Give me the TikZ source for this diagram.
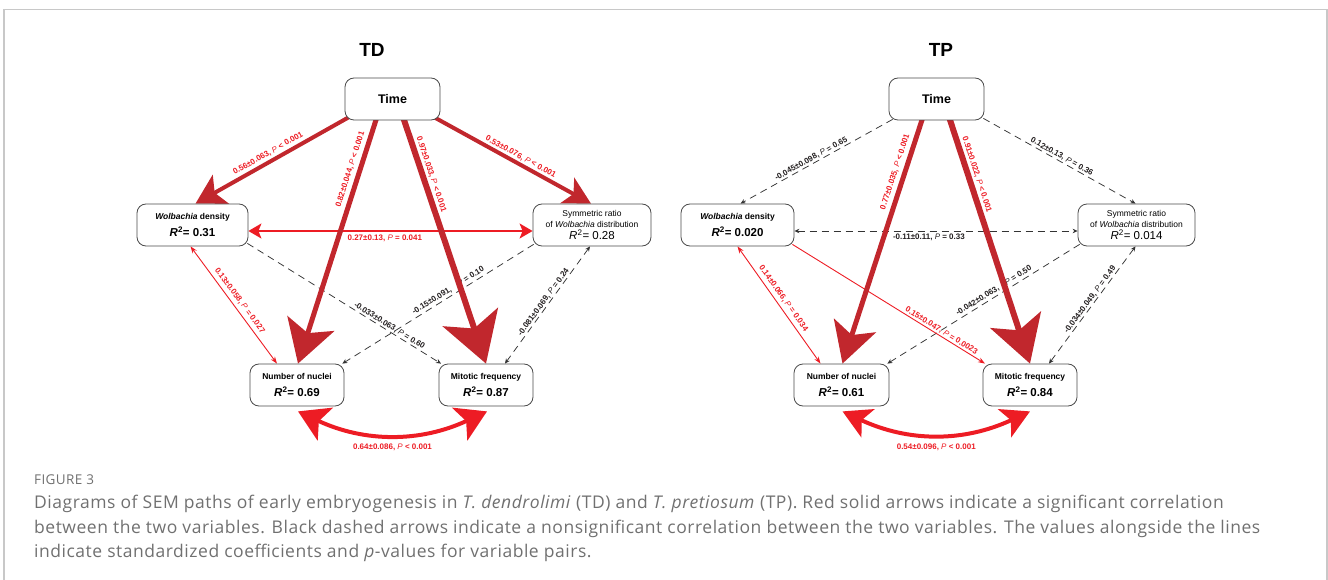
\documentclass[tikz,border=0pt]{standalone}
\usepackage{fontspec}
\setmainfont{Liberation Sans}
\newfontfamily\capfont[LetterSpace=3]{Open Sans}
\usetikzlibrary{arrows.meta,calc}
\definecolor{dred}{HTML}{C1272D}
\definecolor{bred}{HTML}{ED1C24}
\definecolor{boxline}{HTML}{4A4A4A}
\definecolor{capgray}{HTML}{707070}
\definecolor{framegray}{HTML}{C8C8C8}
\definecolor{dashcol}{HTML}{333333}
\definecolor{labblack}{HTML}{231F20}
\newcommand{\Pv}{{\mdseries\itshape P}}
\newcommand{\boxlab}[1]{{\fontsize{8.5}{10}\selectfont\bfseries #1}}
\newcommand{\boxlabm}[1]{{\fontsize{8.5}{10}\selectfont #1}}
\newcommand{\rvalb}[1]{{\fontsize{11.5}{14}\selectfont\bfseries\textit{R}\textsuperscript{2}= #1}}
\newcommand{\rvalm}[1]{{\fontsize{11.5}{14}\selectfont\textit{R}\textsuperscript{2}= #1}}
\pgfdeclarelayer{edges}
\pgfsetlayers{edges,main}
\tikzset{
  box/.style={draw=boxline, line width=0.8pt, rounded corners=9pt, fill=white,
    inner sep=0pt, minimum height=42pt, align=center, font=\fontsize{9}{17}\selectfont},
  symbox/.style={box, font=\fontsize{9}{11}\selectfont},
  lab/.style={font=\fontsize{8}{9}\selectfont\bfseries, inner sep=1pt, sloped},
  rlab/.style={lab, text=bred},
  klab/.style={lab, text=labblack},
  clab/.style={font=\fontsize{8}{9}\selectfont\bfseries, inner sep=1pt, text=bred},
  heavy/.style={draw=dred, line width=#1},
  dline/.style={draw=dashcol, line width=0.75pt, dash pattern=on 7pt off 5pt},
  thinred/.style={draw=bred, line width=0.9pt},
  midred/.style={draw=bred, line width=2pt},
  curved/.style={draw=bred, line width=4pt},
  title/.style={font=\fontsize{19}{22}\selectfont\bfseries},
  capline/.style={anchor=base west, font=\capfont\fontsize{17.5}{20}\selectfont, text=capgray, inner sep=0pt},
  dtip/.tip={Stealth[length=5pt,width=4.5pt]},
  rtip/.tip={Stealth[length=7pt,width=5pt]},
  mtip/.tip={Stealth[length=13pt,width=15pt,inset=3pt]}
}
\begin{document}
\begin{tikzpicture}[x=1pt,y=-1pt]
\useasboundingbox (0,0) rectangle (1328,580);
\begin{scope}
\clip (0,0) rectangle (1328,580);
\draw[framegray, line width=1.3pt] (4,9.5) rectangle (1327,640);
\end{scope}

% titles
\node[title] (tdTitle) at (372,50) {TD};
\node[title] (tpTitle) at (941,50) {TP};

% TD boxes
\node[box, minimum width=95pt] (tdT) at (392.5,99) {\fontsize{12.5}{14}\selectfont\bfseries Time};
\node[box, minimum width=111pt] (tdW) at (192.5,225) {\boxlab{\textit{Wolbachia} density}\\\rvalb{0.31}};
\node[symbox, minimum width=118pt] (tdS) at (592,225) {\boxlabm{Symmetric ratio}\\\boxlabm{of \textit{Wolbachia} distribution}\\[1pt]\rvalm{0.28}};
\node[box, minimum width=94pt] (tdN) at (297,385) {\boxlab{Number of nuclei}\\\rvalb{0.69}};
\node[box, minimum width=94pt] (tdM) at (486,385) {\boxlab{Mitotic frequency}\\\rvalb{0.87}};

% TP boxes
\node[box, minimum width=95pt] (tpT) at (936.5,99) {\fontsize{12.5}{14}\selectfont\bfseries Time};
\node[box, minimum width=113pt] (tpW) at (737.5,225) {\boxlab{\textit{Wolbachia} density}\\\rvalb{0.020}};
\node[symbox, minimum width=117pt] (tpS) at (1136.5,225) {\boxlabm{Symmetric ratio}\\\boxlabm{of \textit{Wolbachia} distribution}\\[1pt]\rvalm{0.014}};
\node[box, minimum width=95pt] (tpN) at (841.5,385) {\boxlab{Number of nuclei}\\\rvalb{0.61}};
\node[box, minimum width=94pt] (tpM) at (1030,385) {\boxlab{Mitotic frequency}\\\rvalb{0.84}};

\begin{pgfonlayer}{edges}
% ---------- TD ----------
\draw[dline, -dtip] ([shift={(-1,-3)}]tdW.south east) -- ([shift={(-45,0)}]tdM.north)
  node[klab, pos=0.72, above] {-0.033±0.063, \Pv{} = 0.60};
\draw[dline, -dtip] ([shift={(1,-2)}]tdS.south west) -- ([shift={(-2,0)}]tdN.north east)
  node[klab, pos=0.43, above=1pt] {-0.15±0.091,\hspace{6pt} \Pv{} = 0.10};
\draw[dline, dtip-dtip] ([shift={(-2,0)}]tdS.south) -- ([shift={(19,0)}]tdM.north)
  node[klab, pos=0.5, above] {-0.081±0.069, \Pv{} = 0.24};
\draw[thinred, rtip-rtip] ([shift={(-2,0)}]tdW.south) -- ([shift={(-20,0)}]tdN.north)
  node[rlab, pos=0.5, above=2.5pt] {0.13±0.058, \Pv{} = 0.027};
\draw[midred, mtip-mtip] ([shift={(0,6)}]tdW.east) -- ([shift={(0,6)}]tdS.west)
  node[rlab, pos=0.48, below=2pt] {0.27±0.13, \Pv{} = 0.041};
\draw[heavy=4pt, -{Stealth[length=29pt,width=33pt,inset=7pt]}] ([shift={(-44,-3)}]tdT.south) -- ([shift={(3,0)}]tdW.north)
  node[rlab, pos=0.5, above=1.5pt] {0.56±0.063, \Pv{} < 0.001};
\draw[heavy=5pt, -{Stealth[length=42pt,width=49pt,inset=10pt]}] ([shift={(-16,-2)}]tdT.south) -- ([shift={(1,0)}]tdN.north)
  node[rlab, pos=0.22, above=2.5pt] {0.82±0.044, \Pv{} < 0.001};
\draw[heavy=6pt, -{Stealth[length=49pt,width=58pt,inset=12pt]}] ([shift={(11,-2)}]tdT.south) -- (tdM.north)
  node[rlab, pos=0.24, above=1pt] {0.97±0.033, \Pv{} < 0.001};
\draw[heavy=4pt, -{Stealth[length=27pt,width=29pt,inset=7pt]}] ([shift={(-6,-3)}]tdT.south east) -- ([shift={(-1,0)}]tdS.north)
  node[rlab, pos=0.53, above=0.5pt] {0.53±0.076, \Pv{} < 0.001};
\draw[curved, {Stealth[length=30pt,width=36pt,inset=7pt]}-{Stealth[length=30pt,width=36pt,inset=7pt]}]
  ([shift={(1,5)}]tdN.south) to[bend right=25] node[clab, pos=0.5, below=6pt] {0.64±0.086, \Pv{} < 0.001} ([shift={(1,5)}]tdM.south);

% ---------- TP ----------
\draw[dline, -dtip] ([shift={(4,-1)}]tpT.south west) -- ([shift={(3,0)}]tpW.north)
  node[klab, pos=0.52, above] {-0.045±0.098, \Pv{} = 0.65};
\draw[dline, -dtip] ([shift={(-1,-2)}]tpT.south east) -- ([shift={(-1,0)}]tpS.north)
  node[klab, pos=0.5, above] {0.12±0.13, \Pv{} = 0.36};
\draw[dline, dtip-dtip] ([shift={(0,6)}]tpW.east) -- ([shift={(0,6)}]tpS.west)
  node[klab, pos=0.475, below=2pt] {-0.11±0.11, \Pv{} = 0.33};
\draw[dline, -dtip] ([shift={(2,-2)}]tpS.south west) -- ([shift={(-2,0)}]tpN.north east)
  node[klab, pos=0.43, above=1pt] {-0.042±0.063,\hspace{6pt} \Pv{} = 0.50};
\draw[dline, dtip-dtip] ([shift={(-1,0)}]tpS.south) -- ([shift={(19,0)}]tpM.north)
  node[klab, pos=0.48, above] {-0.034±0.049, \Pv{} = 0.49};
\draw[thinred, rtip-rtip] (tpW.south) -- ([shift={(-21,0)}]tpN.north)
  node[rlab, pos=0.48, above=2.5pt] {0.14±0.066, \Pv{} = 0.034};
\draw[thinred, -rtip] ([shift={(-2,-2)}]tpW.south east) -- ([shift={(-45,0)}]tpM.north)
  node[rlab, pos=0.76, above] {0.15±0.047, \Pv{} = 0.0023};
\draw[heavy=5pt, -{Stealth[length=40pt,width=44pt,inset=10pt]}] ([shift={(-14,-2)}]tpT.south) -- ([shift={(1,0)}]tpN.north)
  node[rlab, pos=0.23, above=2.5pt] {0.77±0.035, \Pv{} < 0.001};
\draw[heavy=6pt, -{Stealth[length=46pt,width=53pt,inset=11pt]}] ([shift={(13,-2)}]tpT.south) -- (tpM.north)
  node[rlab, pos=0.24, above=1pt] {0.91±0.022, \Pv{} < 0.001};
\draw[curved, {Stealth[length=28pt,width=31pt,inset=7pt]}-{Stealth[length=28pt,width=31pt,inset=7pt]}]
  ([shift={(1,5)}]tpN.south) to[bend right=25] node[clab, pos=0.5, below=6pt] {0.54±0.096, \Pv{} < 0.001} ([shift={(0,5)}]tpM.south);
\end{pgfonlayer}

% caption
\node[capline, font=\capfont\fontsize{13.5}{15}\selectfont] (figlab) at (34,484) {FIGURE 3};
\node[capline] (cap1) at (34,508) {Diagrams of SEM paths of early embryogenesis in \textit{T. dendrolimi} (TD) and \textit{T. pretiosum} (TP). Red solid arrows indicate a significant correlation};
\node[capline] (cap2) at (34,533) {between the two variables. Black dashed arrows indicate a nonsignificant correlation between the two variables. The values alongside the lines};
\node[capline] (cap3) at (34,557) {indicate standardized coefficients and \textit{p}-values for variable pairs.};
\end{tikzpicture}
\end{document}
